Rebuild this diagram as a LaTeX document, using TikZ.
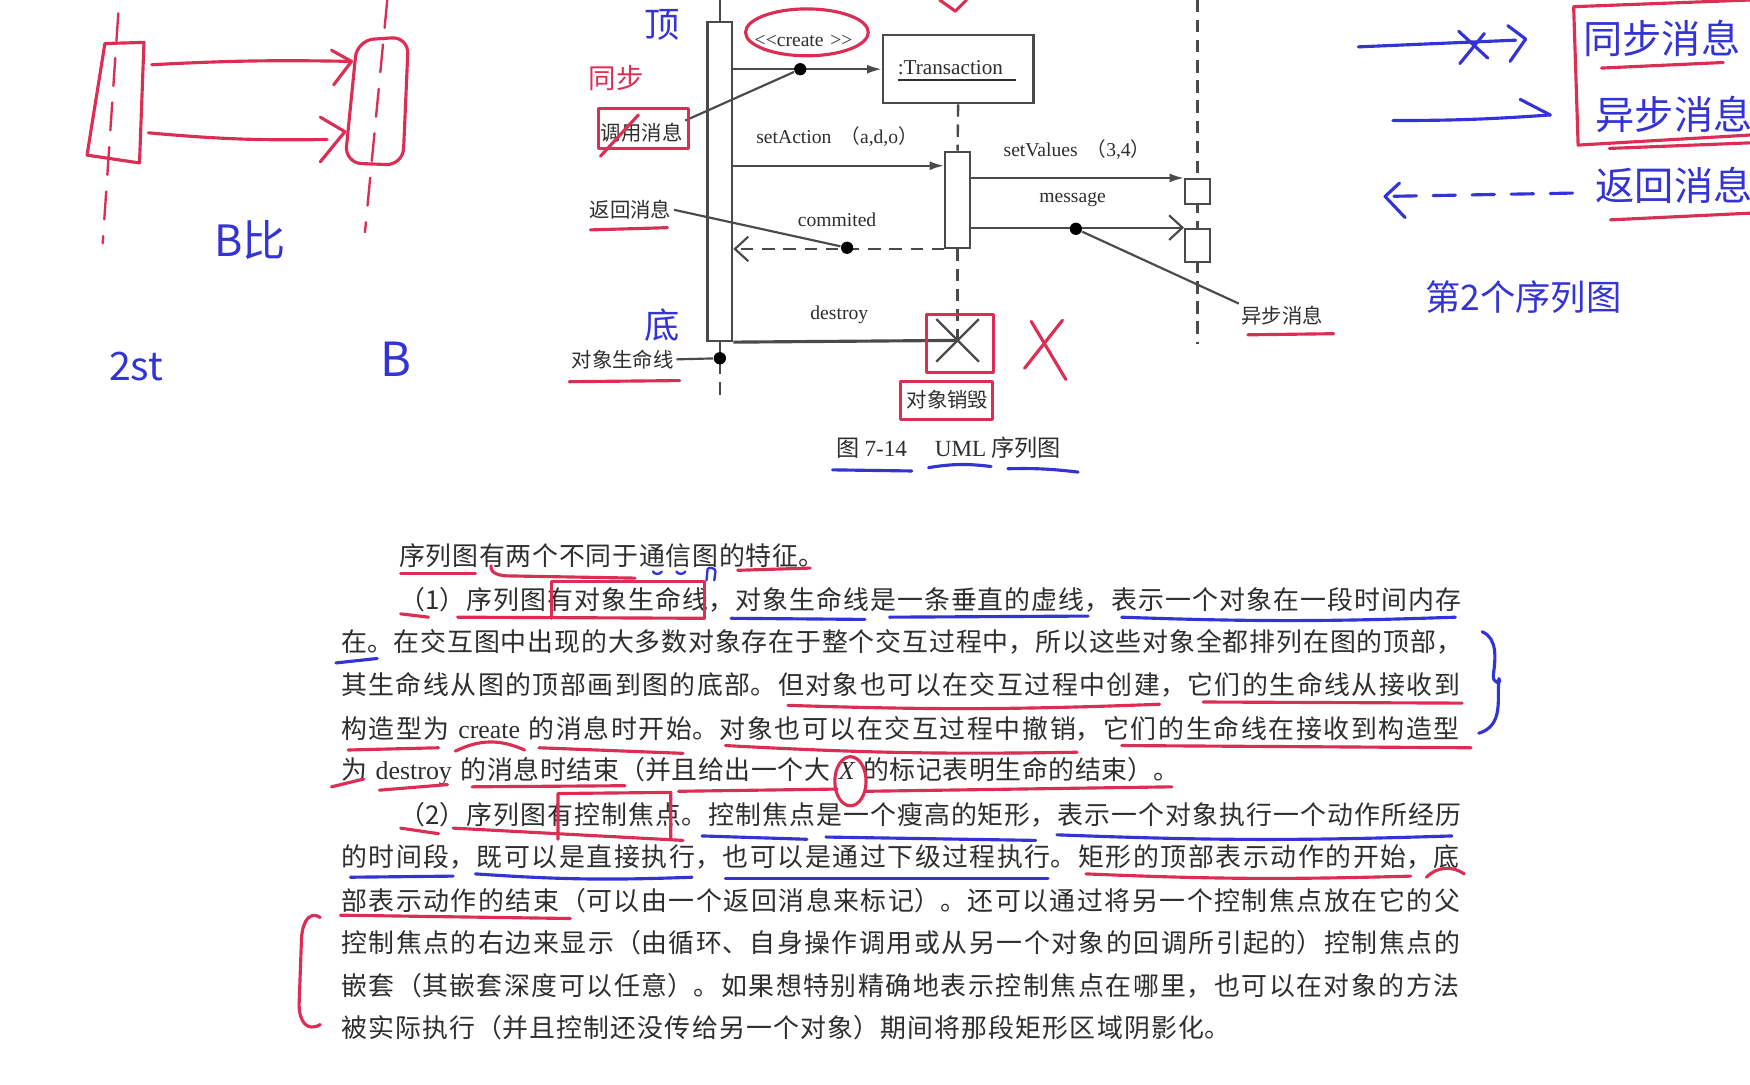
\documentclass[tikz,border=0pt]{standalone}
\usepackage{fontspec}
\setmainfont{Liberation Serif}
\newfontfamily\cjk{Noto Sans CJK SC}
\usetikzlibrary{arrows.meta,shapes.misc,calc}
\XeTeXlinebreaklocale "zh"
\XeTeXlinebreakskip=0pt plus 4pt minus 0.3pt
\definecolor{ink}{HTML}{2E2E2E}
\definecolor{gline}{HTML}{4A4A4A}
\definecolor{rpen}{HTML}{DC2E55}
\definecolor{bpen}{HTML}{3434D6}
\newcommand\jline[1]{\parindent=0pt\parfillskip=0pt\emergencystretch=2mm\relax #1\par}
\tikzset{
  body/.style={anchor=west, inner sep=0pt, text=ink, font=\cjk\fontsize{6.6}{8}\selectfont, text width=#1},
  zh/.style={inner sep=0.5pt, text=ink, font=\cjk\fontsize{5.2}{6}\selectfont},
  en/.style={inner sep=0.5pt, text=ink, font=\fontsize{5}{6}\selectfont},
  ln/.style={draw=gline, line width=0.55pt},
  act/.style={draw=gline, line width=0.6pt, fill=white, inner sep=0pt, minimum width=2.2mm},
  life/.style={draw=gline, line width=0.6pt, dash pattern=on 1.1mm off 0.7mm},
  dotm/.style={circle, fill=black, inner sep=0pt, minimum size=1.1mm},
  arrFull/.style={-{Latex[length=1.3mm,width=0.8mm]}},
  arrOpen/.style={-{Straight Barb[length=1.2mm,width=2.2mm]}},
  rp/.style={draw=rpen, line width=0.8pt, line cap=round, line join=round},
  bp/.style={draw=bpen, line width=0.8pt, line cap=round, line join=round},
  hw/.style={text=bpen, inner sep=0pt, font=\cjk\fontsize{10}{12}\selectfont},
}
\begin{document}
\begin{tikzpicture}[x=0.1mm,y=-0.1mm]
\useasboundingbox (0,0) rectangle (1568,972);
\fill[white] (0,0) rectangle (1568,972);

% ---------------- sequence diagram ----------------
\coordinate (topA) at (645,0);
\coordinate (endA) at (645,357);
\node[act, minimum height=28.6mm] (actA) at (645,162.5) {};
\draw[ln] (topA) -- (actA.north);
\draw[life] (actA.south) -- (endA);
\node[dotm] (dLife) at (645,321) {};
\node[zh, anchor=east] (lLife) at (606,322) {对象生命线};
\draw[ln] (lLife.east) -- (dLife);

\node[draw=gline, line width=0.6pt, minimum width=13.5mm, minimum height=6.1mm, inner sep=0pt] (tr) at (858.5,62) {};
\node[en, anchor=west, font=\fontsize{5.4}{6}\selectfont] (trT) at (802,64) {\underline{:Transaction\hspace{1.2mm}}};

\coordinate (topC) at (1073,0);
\coordinate (endC) at (1073,308);
\draw[life] (topC) -- (endC);

\node[act, minimum height=8.6mm] (actB) at (858,179) {};
\draw[life] (tr.south) -- (actB.north);
\node[draw=gline, cross out, line width=0.6pt, minimum size=3.6mm, inner sep=0pt] (xx) at (858,305) {};
\draw[life] (actB.south) -- (xx.center);

\node[act, minimum height=2.2mm] (bx1) at (1073,171.5) {};
\node[act, minimum height=3.0mm] (bx2) at (1073,220) {};

% create
\draw[ln, arrFull] (actA.east |- tr.west) -- (tr.west);
\node[dotm] (dC) at (717,62) {};
\node[en] (lCreate) at (720,37) {\textless\kern0pt\textless create\hspace{0.6mm}\textgreater\kern0pt\textgreater};
% setAction
\coordinate (saY) at (0,148.5);
\draw[ln, arrFull] (actA.east |- saY) -- (actB.west |- saY);
\node[en] (lSA) at (750,122) {setAction\hspace{0.8mm}{\cjk （}a,d,o{\cjk ）}};
% setValues
\draw[ln, arrFull] (actB.east |- bx1.north) -- (bx1.north west);
\node[en] (lSV) at (965,134) {setValues\hspace{0.8mm}{\cjk （}3,4{\cjk ）}};
% message
\draw[ln, arrOpen] (actB.east |- bx2.north) -- (bx2.north west);
\node[dotm] (dM) at (964,205) {};
\node[en] (lMsg) at (961,179) {message};
% commited
\draw[ln, dash pattern=on 1.1mm off 0.8mm, arrOpen] (actB.south west) -- (actA.east |- actB.south);
\node[dotm] (dR) at (759,222) {};
\node[en] (lCom) at (750,197) {commited};
% destroy
\draw[ln, line width=0.8pt] (actA.south east) -- (xx.center);
\node[en] (lDes) at (752,282) {destroy};

\node[zh] (lCall) at (575,119) {调用消息};
\draw[ln] (lCall.north east) -- (dC);
\node[zh] (lRet) at (565,188) {返回消息};
\draw[ln] (lRet.east) -- (dR);
\node[zh] (lAsync) at (1149,283) {异步消息};
\draw[ln] (lAsync.north west) -- (dM);
\node[zh] (lDel) at (849,358) {对象销毁};
\node[zh, font=\cjk\fontsize{5.9}{7}\selectfont] (cap) at (850,401) {图 {\rmfamily 7-14}\hspace{2.5mm}{\rmfamily UML} 序列图};

% ---------------- body text ----------------
\node[body=38.3mm] (L1) at (357,498) {\jline{序列图有两个不同于通信图的特征。}};
\node[body=95.5mm] (L2) at (357,537) {\jline{（1）序列图有对象生命线，对象生命线是一条垂直的虚线，表示一个对象在一段时间内存}};
\node[body=100.7mm] (L3) at (305,575) {\jline{在。在交互图中出现的大多数对象存在于整个交互过程中，所以这些对象全都排列在图的顶部，}};
\node[body=100.7mm] (L4) at (305,614) {\jline{其生命线从图的顶部画到图的底部。但对象也可以在交互过程中创建，它们的生命线从接收到}};
\node[body=100.7mm] (L5) at (305,653) {\jline{构造型为 {\rmfamily create} 的消息时开始。对象也可以在交互过程中撤销，它们的生命线在接收到构造型}};
\node[body=75.3mm] (L6) at (305,691) {\jline{为 {\rmfamily destroy} 的消息时结束（并且给出一个大 {\rmfamily\itshape X} 的标记表明生命的结束）。}};
\node[body=95.5mm] (L7) at (357,730) {\jline{（2）序列图有控制焦点。控制焦点是一个瘦高的矩形，表示一个对象执行一个动作所经历}};
\node[body=100.7mm] (L8) at (305,768) {\jline{的时间段，既可以是直接执行，也可以是通过下级过程执行。矩形的顶部表示动作的开始，底}};
\node[body=100.7mm] (L9) at (305,807) {\jline{部表示动作的结束（可以由一个返回消息来标记）。还可以通过将另一个控制焦点放在它的父}};
\node[body=100.7mm] (L10) at (305,845) {\jline{控制焦点的右边来显示（由循环、自身操作调用或从另一个对象的回调所引起的）控制焦点的}};
\node[body=100.7mm] (L11) at (305,883) {\jline{嵌套（其嵌套深度可以任意）。如果想特别精确地表示控制焦点在哪里，也可以在对象的方法}};
\node[body=80mm] (L12) at (305,921) {\jline{被实际执行（并且控制还没传给另一个对象）期间将那段矩形区域阴影化。}};

% ---------------- red pen on diagram ----------------
\draw[rp] (723,29) ellipse [x radius=5.5mm, y radius=2.1mm];
\node[text=rpen, inner sep=0pt, font=\cjk\fontsize{7}{8}\selectfont] (hTB) at (552,70) {同步};
\draw[rp] (536,97) rectangle (617,133);
\draw[rp] (538,140) -- (572,103);
\draw[rp] (529,206) -- (598,204);
\draw[rp] (510,342) -- (609,341);
\draw[rp] (830,282) rectangle (890,334);
\draw[rp] (807,342) rectangle (889,376);
\draw[rp] (924,288) -- (955,340);
\draw[rp] (952,287) -- (918,330);
\draw[rp] (842,0) -- (856,10) -- (866,0);
\draw[rp] (1118,300) -- (1195,299);

% ---------------- blue pen on diagram ----------------
\node[hw, font=\cjk\fontsize{9}{10}\selectfont] (hTop) at (593,22) {顶};
\node[hw, font=\cjk\fontsize{9}{10}\selectfont] (hBot) at (593,291) {底};
\draw[bp] (746,421) -- (817,422);
\draw[bp] (832,419) to[bend left=8] (888,418);
\draw[bp] (903,420) to[bend left=4] (966,423);

% ---------------- left sketch ----------------
\draw[rp] (94,39) -- (129,38) -- (125,146) -- (78,139) -- cycle;
\draw[rp, rounded corners=1.5mm] (320,36) -- (366,33) -- (361,148) -- (309,146) -- cycle;
\draw[rp, line width=0.6pt, dash pattern=on 2.5mm off 1.5mm] (106,12) -- (92,218);
\draw[rp, line width=0.6pt, dash pattern=on 2.5mm off 1.5mm] (347,0) -- (327,208);
\draw[rp] (136,58) to[bend left=2] (314,55);
\draw[rp] (297,45) -- (315,55) -- (299,76);
\draw[rp] (133,119) to[bend right=3] (293,125);
\draw[rp] (287,105) -- (309,118) -- (287,145);
\node[hw, font=\cjk\fontsize{11}{12}\selectfont] (hB1) at (224,215) {B比};
\node[hw, font=\cjk\fontsize{10}{12}\selectfont] (hB2) at (122,328) {2st};
\node[hw, font=\cjk\fontsize{12}{14}\selectfont] (hB3) at (355,322) {B};

% ---------------- right notes ----------------
\draw[bp] (1217,42) -- (1358,36);
\draw[bp] (1307,28) -- (1333,52);
\draw[bp] (1330,30) -- (1308,57);
\draw[bp] (1351,23) -- (1367,35) -- (1353,55);
\draw[bp] (1248,108) to[bend right=2] (1389,103);
\draw[bp] (1362,89) -- (1389,103);
\draw[bp, dash pattern=on 2mm off 1.5mm] (1409,173) -- (1241,176);
\draw[bp] (1254,164) -- (1241,176) -- (1259,195);
\node[hw] (hS1) at (1489,34) {同步消息};
\node[hw] (hS2) at (1500,103) {异步消息};
\node[hw] (hS3) at (1500,166) {返回消息};
\draw[rp] (1568,0) -- (1410,6) -- (1414,130) -- (1568,121);
\draw[rp] (1435,61) -- (1544,56);
\draw[rp] (1442,133) -- (1568,128);
\draw[rp] (1443,197) -- (1568,191);
\node[hw, font=\cjk\fontsize{9}{10}\selectfont] (hS4) at (1365,266) {第2个序列图};

% ---------------- marks on body text ----------------
% line 1
\draw[rp] (359,514) -- (426,514);
\draw[rp] (440,507) to[out=-100,in=180] (455,516) -- (569,518);
\draw[rp] (661,511) -- (726,509);
% line 2
\draw[rp] (494,554) -- (494,521) -- (631,521) -- (631,554);
\draw[rp] (410,553) -- (631,554);
\draw[rp] (359,550) -- (384,553);
\draw[bp, line width=0.6pt] (585,512) to[bend right=70] (593,512);
\draw[bp, line width=0.6pt] (606,512) to[bend right=70] (614,512);
\draw[bp, line width=0.6pt] (633,520) -- (634,510) to[bend left=90] (641,512) -- (640,520);
\draw[bp] (655,554) -- (775,555);
\draw[bp] (797,553) -- (975,552);
\draw[bp] (1005,553) to[bend right=2] (1304,553);
% line 3
\draw[bp] (301,594) -- (338,590);
% line 4
\draw[rp] (706,632) to[bend right=2] (1039,631);
\draw[rp] (1078,629) -- (1310,630);
% line 5
\draw[rp] (312,672) -- (393,670);
\draw[rp] (408,673) to[bend left=25] (470,672);
\draw[rp] (483,670) -- (612,675);
\draw[rp] (650,668) to[bend right=2] (965,674);
\draw[rp] (1005,668) -- (1318,670);
% right brace
\draw[bp] (1328,566) .. controls (1342,572) and (1340,590) .. (1338,605)
  .. controls (1337,612) and (1346,614) .. (1343,608)
  .. controls (1341,625) and (1348,650) .. (1325,657);
% line 6
\draw[rp] (297,705) -- (326,698);
\draw[rp] (340,708) -- (401,703);
\draw[rp] (423,705) -- (560,704);
\draw[rp] (608,709) -- (750,707);
\draw[rp] (776,709) -- (1050,705);
\draw[rp] (762,700) ellipse [x radius=1.4mm, y radius=2.2mm];
% line 7
\draw[rp] (500,752) -- (500,711) -- (601,710) -- (601,752);
\draw[rp] (406,742) -- (612,753);
\draw[rp] (359,742) -- (393,747);
\draw[bp] (629,749) -- (723,752);
\draw[bp] (740,750) -- (928,753);
\draw[bp] (947,748) to[bend right=2] (1301,749);
% line 8
\draw[bp] (314,786) -- (406,785);
\draw[bp] (426,783) to[bend right=3] (620,786);
\draw[bp] (650,787) -- (939,787);
\draw[rp] (973,783) to[bend right=2] (1264,785);
\draw[rp] (1278,786) to[bend left=40] (1312,783);
% line 9
\draw[rp] (305,820) -- (511,823);
% left brace
\draw[rp] (287,822) .. controls (275,815) and (270,830) .. (270,845) -- (268,900)
  .. controls (268,915) and (275,925) .. (287,918);
\end{tikzpicture}
\end{document}
